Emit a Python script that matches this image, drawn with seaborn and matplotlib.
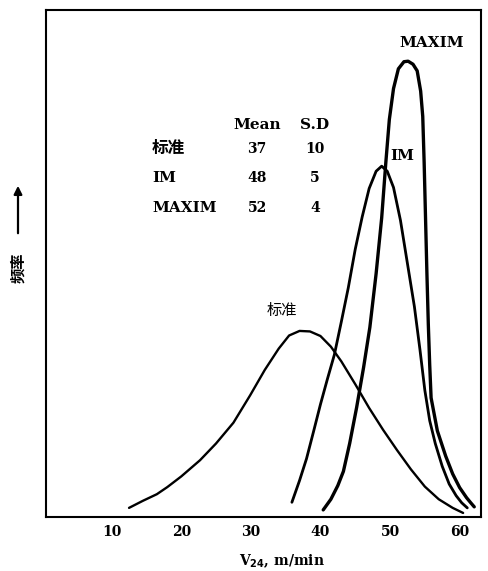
import matplotlib
matplotlib.use("Agg")
import matplotlib.pyplot as plt
import seaborn as sns
import pandas as pd

# ---- data ----
std_x = [12.5, 14.5, 16.5, 18.0, 20.0, 22.7, 25.0, 27.5, 29.9, 32.0, 34.0, 35.5, 37.0,
         38.5, 40.0, 41.5, 43.0, 45.0, 47.0, 49.0, 51.0, 53.0, 55.0, 57.0, 59.0, 60.5]
std_y = [0.018, 0.032, 0.045, 0.059, 0.080, 0.112, 0.145, 0.186, 0.240, 0.290, 0.332, 0.358, 0.367,
         0.366, 0.357, 0.336, 0.307, 0.262, 0.215, 0.172, 0.132, 0.094, 0.060, 0.035, 0.018, 0.008]

im_x = [35.9, 37.0, 38.0, 39.0, 40.0, 41.0, 42.0, 43.0, 44.0, 45.0, 46.0, 47.0, 48.0, 48.8,
        49.6, 50.5, 51.5, 52.5, 53.5, 54.3, 55.0, 55.7, 56.5, 57.5, 58.5, 59.5, 60.3, 61.1]
im_y = [0.029, 0.072, 0.115, 0.168, 0.222, 0.272, 0.320, 0.385, 0.452, 0.528, 0.592, 0.648, 0.682, 0.692,
        0.682, 0.650, 0.585, 0.500, 0.415, 0.330, 0.250, 0.190, 0.145, 0.100, 0.065, 0.042, 0.028, 0.018]

max_x = [40.4, 41.5, 42.5, 43.3, 44.2, 45.2, 46.2, 47.1, 48.0, 48.8, 49.4, 49.9, 50.5, 51.2, 52.0,
         52.6, 53.3, 53.9, 54.4, 54.7, 54.9, 55.1, 55.3, 55.5, 55.7, 55.9, 56.8, 58.0, 59.0, 60.0,
         61.0, 61.6, 62.1]
max_y = [0.014, 0.035, 0.062, 0.090, 0.145, 0.216, 0.295, 0.374, 0.480, 0.590, 0.700, 0.784, 0.845, 0.884, 0.898,
         0.899, 0.893, 0.880, 0.840, 0.790, 0.700, 0.590, 0.480, 0.380, 0.300, 0.235, 0.170, 0.120, 0.085, 0.058,
         0.038, 0.028, 0.020]

x_ticks = [10, 20, 30, 40, 50, 60]

table_rows = ["标准", "IM", "MAXIM"]
table_mean = [37, 48, 52]
table_sd = [10, 5, 4]

# ---- plotting ----
sns.set_theme(style="white")
plt.rcParams['font.family'] = ['DejaVu Serif', 'Noto Sans CJK SC']
plt.rcParams['font.weight'] = 'bold'
plt.rcParams['text.color'] = 'black'
plt.rcParams['axes.labelcolor'] = 'black'
plt.rcParams['xtick.color'] = 'black'

fig = plt.figure(figsize=(4.89, 5.71), dpi=100)
ax = fig.add_axes([46/489, (571-517)/571, (481-46)/489, (517-10)/571])

df_std = pd.DataFrame({"x": std_x, "y": std_y})
df_im = pd.DataFrame({"x": im_x, "y": im_y})
df_max = pd.DataFrame({"x": max_x, "y": max_y})

sns.lineplot(data=df_std, x="x", y="y", ax=ax, color="black", lw=1.7, estimator=None, sort=False)
sns.lineplot(data=df_im, x="x", y="y", ax=ax, color="black", lw=2.0, estimator=None, sort=False)
sns.lineplot(data=df_max, x="x", y="y", ax=ax, color="black", lw=2.4, estimator=None, sort=False)

ax.set_xlim(0.57, 63.07)
ax.set_ylim(0, 1)
ax.set_xticks(x_ticks)
ax.set_xticklabels([str(t) for t in x_ticks], fontsize=10, fontweight='bold',
                   family=['DejaVu Serif'], color='black')
ax.set_yticks([])
ax.tick_params(axis='x', direction='in', length=6, width=1.3, color='black', pad=6)
for s in ax.spines.values():
    s.set_color('black')
    s.set_linewidth(1.5)

ax.set_xlabel(r"V$_{24}$, m/min", fontsize=10, fontweight='bold', family=['DejaVu Serif'],
              color='black', va='center')
ax.xaxis.set_label_coords((282-46)/(481-46), -(561-517)/(517-10))
ax.set_ylabel("")

# curve labels
ax.text(56.0, 0.935, "MAXIM", ha='center', va='center', fontsize=11, fontweight='bold')
ax.text(51.7, 0.712, "IM", ha='center', va='center', fontsize=11, fontweight='bold')
ax.text(34.5, 0.408, "标准", ha='center', va='center', fontsize=11,
        family=['Noto Sans CJK SC'], fontweight='normal')

# table
ax.text(30.9, 0.773, "Mean", ha='center', va='center', fontsize=11, fontweight='bold')
ax.text(39.2, 0.773, "S.D", ha='center', va='center', fontsize=11, fontweight='bold')
row_y = [0.726, 0.669, 0.609]
for name, m, s, yy in zip(table_rows, table_mean, table_sd, row_y):
    ax.text(15.8, yy, name, ha='left', va='center', fontsize=11 if name != "标准" else 12,
            fontweight='bold')
    ax.text(30.9, yy, str(m), ha='center', va='center', fontsize=10, fontweight='bold')
    ax.text(39.2, yy, str(s), ha='center', va='center', fontsize=10, fontweight='bold')

# y label: 频率 with upward arrow
fig.text(18/489, 1 - 268/571, "频率", rotation=90, ha='center', va='center', fontsize=11,
         family=['Noto Sans CJK SC'], fontweight='bold', color='black')
fig.add_artist(matplotlib.patches.FancyArrowPatch(
    (18/489, 1 - 236/571), (18/489, 1 - 183/571), transform=fig.transFigure,
    arrowstyle='-|>', mutation_scale=12, color='black', lw=1.6))

fig.savefig("out.png", dpi=100)
